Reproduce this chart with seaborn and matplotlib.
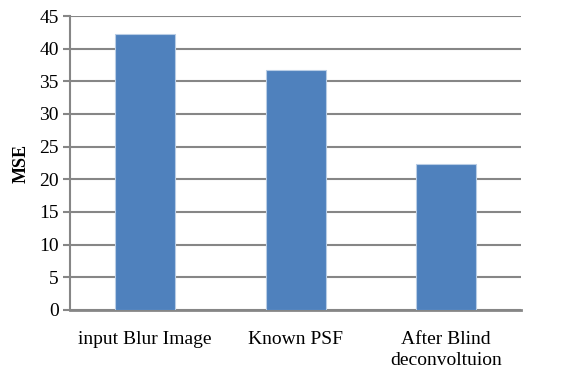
import matplotlib
matplotlib.use("Agg")
import matplotlib.pyplot as plt
import seaborn as sns
import pandas as pd

# chart values
categories = ["input Blur Image", "Known PSF", "After Blind\ndeconvoltuion"]
mse = [42.3, 36.8, 22.3]
yticks = [0, 5, 10, 15, 20, 25, 30, 35, 40, 45]

sns.set_theme(style="white")
plt.rcParams["font.family"] = ["Liberation Serif", "DejaVu Serif"]

df = pd.DataFrame({"cat": categories, "MSE": mse})

fig = plt.figure(figsize=(5.77, 3.69), dpi=100)
ax = fig.add_axes([0.1213, 0.16, 0.782, 0.7966])

sns.barplot(data=df, x="cat", y="MSE", color="#4F81BD", width=0.4,
            edgecolor="#B9CDE5", linewidth=0.8, saturation=1, ax=ax, zorder=3)

ax.set_ylim(0, 45)
ax.set_yticks(yticks)
ax.set_xlim(-0.5, 2.5)
ax.yaxis.grid(True, color="#868686", linewidth=1.5, zorder=0)
ax.set_axisbelow(True)

for s in ["top", "right"]:
    ax.spines[s].set_visible(False)
ax.spines["left"].set_color("#868686")
ax.spines["left"].set_linewidth(1.5)
ax.spines["bottom"].set_color("#868686")
ax.spines["bottom"].set_linewidth(2)

ax.tick_params(axis="y", which="major", left=True, length=5, width=1.5,
               color="#868686", labelsize=14, pad=3, labelcolor="black")
ax.tick_params(axis="x", bottom=False, labelsize=14, pad=9, labelcolor="black")
for lbl in ax.get_xticklabels():
    lbl.set_linespacing(1.35)

ax.set_xlabel("")
ax.set_ylabel("MSE", fontsize=13, fontweight="bold", labelpad=7, color="black")

fig.savefig("out.png", dpi=100)
